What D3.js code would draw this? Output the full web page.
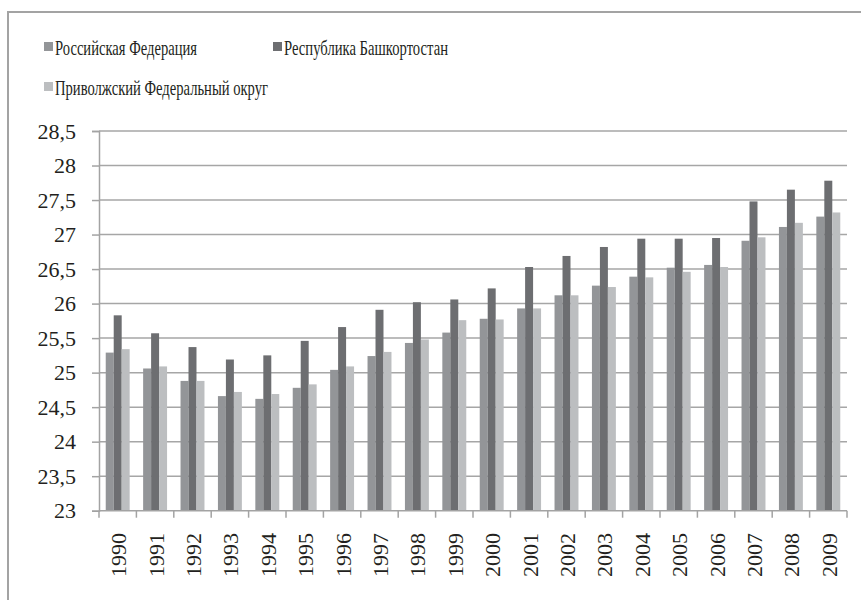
<!DOCTYPE html>
<html><head><meta charset="utf-8">
<script src="https://cdn.jsdelivr.net/npm/d3@7"></script>
<style>
html,body{margin:0;padding:0;background:#fff;}
svg{display:block;}
</style></head>
<body>
<svg id="chart" width="861" height="600"></svg>
<script>
const years = ["1990","1991","1992","1993","1994","1995","1996","1997","1998","1999","2000","2001","2002","2003","2004","2005","2006","2007","2008","2009"];
const seriesNames = ["Российская Федерация","Республика Башкортостан","Приволжский Федеральный округ"];
const rf   = [25.29,25.06,24.88,24.66,24.62,24.78,25.04,25.24,25.43,25.58,25.78,25.93,26.12,26.26,26.39,26.52,26.56,26.91,27.11,27.26];
const bash = [25.83,25.57,25.37,25.19,25.25,25.46,25.66,25.91,26.02,26.06,26.22,26.53,26.69,26.82,26.94,26.94,26.95,27.48,27.65,27.78];
const pfo  = [25.34,25.09,24.88,24.72,24.69,24.83,25.09,25.30,25.48,25.76,25.77,25.93,26.12,26.24,26.38,26.46,26.53,26.96,27.17,27.32];
const yTicks = [23,23.5,24,24.5,25,25.5,26,26.5,27,27.5,28,28.5];
const colors = ["#939598","#6d6e71","#bcbec0"];

(function(){
const FONT = "Liberation Serif";
const INK = "#231f20";
const svg = d3.select("#chart").style("font-family",FONT);
svg.append("rect").attr("x",8).attr("y",12).attr("width",900).attr("height",700)
  .attr("fill","none").attr("stroke","#a3a3a3").attr("stroke-width",2);

const pl=99, pr=847, pt=131, pb=510.7;
const y = d3.scaleLinear().domain([23,28.5]).range([pb,pt]);
const x0 = d3.scaleBand().domain(years).range([pl,pr]).paddingInner(0.36).paddingOuter(0.18);
const x1 = d3.scaleBand().domain([0,1,2]).range([0,x0.bandwidth()]);
const step = x0.step();

svg.append("g").selectAll("line").data(yTicks.slice(1)).join("line")
  .attr("x1",pl).attr("x2",pr).attr("y1",d=>y(d)).attr("y2",d=>y(d))
  .attr("stroke","#a6a6a6").attr("stroke-width",1.5);

const yAxis = d3.axisLeft(y).tickValues(yTicks).tickSize(7).tickPadding(16)
  .tickFormat(d=>String(d).replace(".",","));
const gy = svg.append("g").attr("transform",`translate(${pl},0)`).call(yAxis)
  .attr("font-family",FONT).attr("font-size",22);
gy.select(".domain").attr("stroke","#a3a3a3").attr("stroke-width",1.5);
gy.selectAll(".tick line").attr("stroke","#a3a3a3").attr("stroke-width",1.5);
gy.selectAll(".tick text").style("font-family",FONT).style("font-size","22px").attr("fill",INK);

const data = [rf,bash,pfo];
years.forEach((yr,i)=>{
  data.forEach((s,j)=>{
    svg.append("rect")
      .attr("x",x0(yr)+x1(j)).attr("width",x1.bandwidth())
      .attr("y",y(s[i])).attr("height",y(23)-y(s[i]))
      .attr("fill",colors[j]);
  });
});

svg.append("line").attr("x1",pl).attr("x2",pr).attr("y1",pb).attr("y2",pb)
  .attr("stroke","#a3a3a3").attr("stroke-width",1.5);
const bounds = d3.range(years.length+1).map(i=>pl+i*step);
svg.append("g").selectAll("line").data(bounds).join("line")
  .attr("x1",d=>d).attr("x2",d=>d).attr("y1",pb).attr("y2",pb+7)
  .attr("stroke","#a3a3a3").attr("stroke-width",1.5);
svg.append("g").selectAll("text").data(years).join("text")
  .attr("transform",d=>`translate(${x0(d)+x0.bandwidth()/2+1},533) rotate(-90)`)
  .attr("text-anchor","end").attr("dominant-baseline","central")
  .style("font-family",FONT).style("font-size","22px").attr("fill",INK).text(d=>d);

const legendPos = [[44,55,142],[273,55,164],[44,95,213]];
seriesNames.forEach((n,j)=>{
  const [lx,ly,lw]=legendPos[j];
  svg.append("rect").attr("x",lx).attr("y",ly-13).attr("width",9).attr("height",9).attr("fill",colors[j]);
  svg.append("text").attr("x",lx+11).attr("y",ly)
    .style("font-family",FONT).style("font-size","22px").attr("fill",INK)
    .attr("textLength",lw).attr("lengthAdjust","spacingAndGlyphs").text(n);
});
})();
</script>
</body></html>
